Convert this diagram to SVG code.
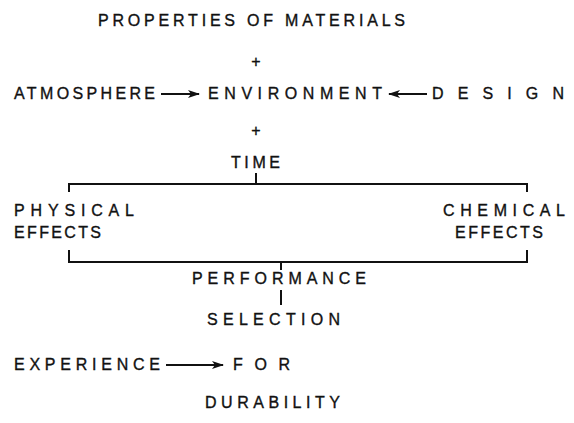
<svg xmlns="http://www.w3.org/2000/svg" width="574" height="423" viewBox="0 0 574 423">
  <style>
    text { font-family: "Liberation Sans", Arial, sans-serif; font-size: 16px; fill: #111; stroke: #111; stroke-width: 0.35px; }
    .ln { stroke: #111; stroke-width: 2; fill: none; }
  </style>
  <defs>
    <marker id="head" viewBox="0 0 12 10" refX="11" refY="5" markerWidth="12" markerHeight="10" markerUnits="userSpaceOnUse" orient="auto">
      <path d="M0,1 L12,5 L0,9 L3,5 Z" fill="#111"/>
    </marker>
  </defs>
  <rect width="574" height="423" fill="#fff"/>

  <g id="properties"><text x="98" y="26" textLength="307" lengthAdjust="spacing">PROPERTIES OF MATERIALS</text></g>
  <g id="plus1"><text x="256" y="67" text-anchor="middle">+</text></g>
  <g id="atmosphere"><text x="14" y="99" textLength="141" lengthAdjust="spacing">ATMOSPHERE</text></g>
  <g id="environment"><text x="208" y="99" textLength="174" lengthAdjust="spacing">ENVIRONMENT</text></g>
  <g id="design"><text x="432" y="99" textLength="132" lengthAdjust="spacing">DESIGN</text></g>
  <g id="plus2"><text x="256" y="136" text-anchor="middle">+</text></g>
  <g id="time"><text x="231" y="168" textLength="49" lengthAdjust="spacing">TIME</text></g>
  <g id="physical"><text x="14" y="216" textLength="120" lengthAdjust="spacing">PHYSICAL</text><text x="14" y="238" textLength="87" lengthAdjust="spacing">EFFECTS</text></g>
  <g id="chemical"><text x="443" y="216" textLength="122" lengthAdjust="spacing">CHEMICAL</text><text x="455" y="238" textLength="88" lengthAdjust="spacing">EFFECTS</text></g>
  <g id="performance"><text x="192" y="284" textLength="174" lengthAdjust="spacing">PERFORMANCE</text></g>
  <g id="selection"><text x="207" y="325" textLength="133" lengthAdjust="spacing">SELECTION</text></g>
  <g id="experience"><text x="14" y="370" textLength="146" lengthAdjust="spacing">EXPERIENCE</text></g>
  <g id="for"><text x="233" y="370" textLength="57" lengthAdjust="spacing">FOR</text></g>
  <g id="durability"><text x="205" y="408" textLength="135" lengthAdjust="spacing">DURABILITY</text></g>

  <g id="connectors">
    <line class="ln" x1="161" y1="94" x2="199" y2="94" marker-end="url(#head)"/>
    <line class="ln" x1="427" y1="94" x2="389" y2="94" marker-end="url(#head)"/>
    <path class="ln" d="M256,173 V184 M69,192 V184 H527 V192"/>
    <path class="ln" d="M69,250 V262 H527 V250 M281,262 V270"/>
    <line class="ln" x1="281" y1="290" x2="281" y2="305"/>
    <line class="ln" x1="166" y1="365" x2="223" y2="365" marker-end="url(#head)"/>
  </g>
</svg>
